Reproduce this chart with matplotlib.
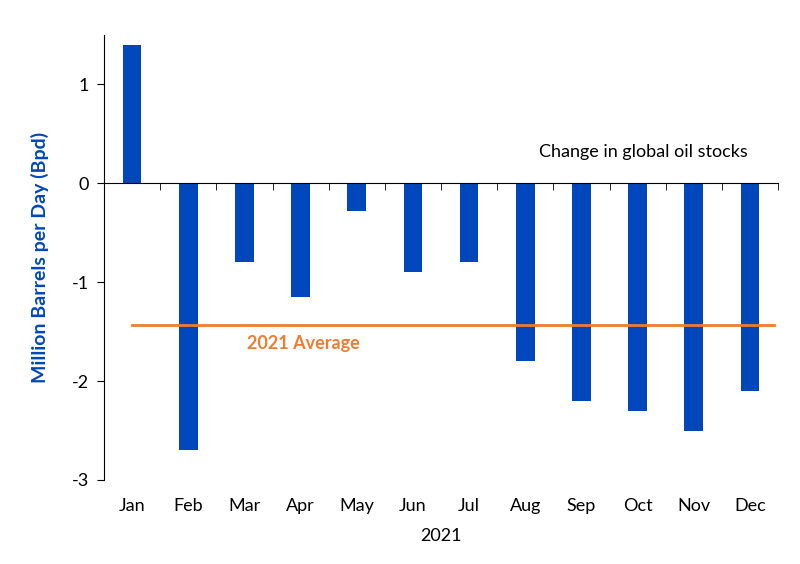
import numpy as np
import matplotlib
matplotlib.use("Agg")
import matplotlib.pyplot as plt

# Data
months = ["Jan", "Feb", "Mar", "Apr", "May", "Jun", "Jul", "Aug", "Sep", "Oct", "Nov", "Dec"]
stock_change = [1.4, -2.7, -0.8, -1.15, -0.28, -0.9, -0.8, -1.8, -2.2, -2.3, -2.5, -2.1]
avg_2021 = -1.43
avg_span = [0, 11.42]

BLUE = "#0047BB"
ORANGE = "#ED7D31"

plt.rcParams["font.family"] = ["Lato", "DejaVu Sans"]
plt.rcParams["axes.unicode_minus"] = False

fig = plt.figure(figsize=(8, 5.64), dpi=100)
ax = fig.add_axes([0.13, 0.149, 0.8425, 0.789])

x = np.arange(len(months))
ax.bar(x, stock_change, width=0.33, color=BLUE, zorder=2)

# 2021 average line
ax.plot(avg_span, [avg_2021, avg_2021], color=ORANGE, lw=2, zorder=3)
ax.text(3.05, -1.62, "2021 Average", color=ORANGE, fontsize=13, fontweight="bold",
        ha="center", va="center")
ax.text(9.1, 0.32, "Change in global oil stocks", color="black", fontsize=13,
        ha="center", va="center")

ax.set_xlim(-0.5, 11.5)
ax.set_ylim(-3, 1.5)
ax.set_yticks([-3, -2, -1, 0, 1])
ax.tick_params(axis="y", direction="out", length=5, labelsize=13, pad=6)

# zero line as the x axis, with ticks at category boundaries
for s in ["top", "right"]:
    ax.spines[s].set_visible(False)
ax.spines["bottom"].set_position(("data", 0))
ax.spines["bottom"].set_bounds(-0.5, 11.5)
ax.set_xticks(x)
ax.set_xticklabels([])
ax.tick_params(axis="x", which="major", length=0)
ax.set_xticks(np.arange(0.5, 12, 1), minor=True)
ax.tick_params(axis="x", which="minor", direction="out", length=5)

# month labels along the bottom
sec = ax.secondary_xaxis(0.0)
sec.set_xticks(x)
sec.set_xticklabels(months)
sec.tick_params(length=0, labelsize=13, pad=13)
sec.spines["bottom"].set_visible(False)
sec.set_xlabel("2021", fontsize=13, labelpad=10)

ax.set_ylabel("Million Barrels per Day (Bpd)", color=BLUE, fontsize=14,
              fontweight="bold", labelpad=16)

fig.savefig("out.png", dpi=100)
